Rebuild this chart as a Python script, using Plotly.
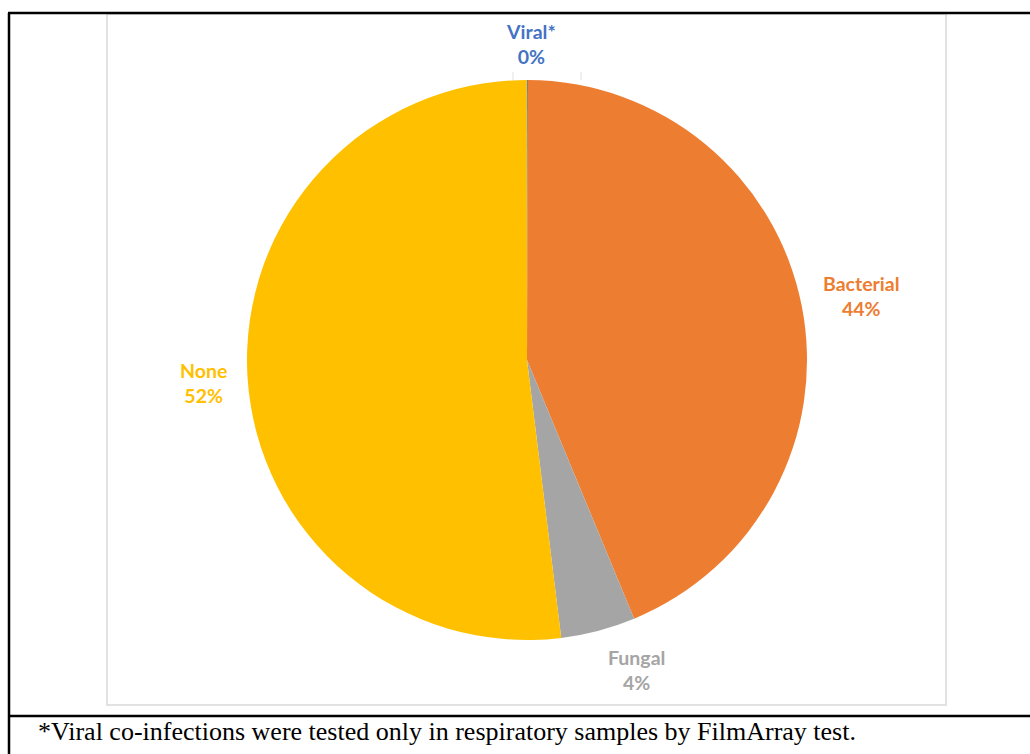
import math
import plotly.graph_objects as go

# ---- data ----
categories = ["Viral*", "Bacterial", "Fungal", "None"]
values = [0.05, 43.7, 4.3, 51.95]
pct_labels = ["0%", "44%", "4%", "52%"]
colors = ["#4472C4", "#ED7D31", "#A5A5A5", "#FFC000"]
label_colors = ["#4472C4", "#ED7D31", "#A5A5A5", "#FFC000"]
footnote = "*Viral co-infections were tested only in respiratory samples by FilmArray test."

# label nudges (pixels, style only): xshift, yshift (positive = up)
label_nudge = {"Viral*": (3, -14), "Bacterial": (10, 0), "Fungal": (25, 9), "None": (6, -3)}

W, H = 1030, 754
cx, cy, r = 527, 360, 280

def px(x):
    return x / W

def py(y):
    return 1 - y / H

fig = go.Figure()
fig.add_trace(go.Pie(
    labels=categories,
    values=values,
    sort=False,
    direction="clockwise",
    rotation=0,
    marker=dict(colors=colors, line=dict(color="white", width=0)),
    textinfo="none",
    hoverinfo="label+percent",
    showlegend=False,
    domain=dict(x=[px(cx - r), px(cx + r)], y=[py(cy + r), py(cy - r)]),
))

shapes = [
    # chart area border
    dict(type="rect", xref="paper", yref="paper", x0=px(107), x1=px(946), y0=py(705), y1=py(14),
         line=dict(color="#D9D9D9", width=1.5), layer="below"),
    # table frame
    dict(type="line", xref="paper", yref="paper", x0=px(8), x1=1, y0=py(13), y1=py(13),
         line=dict(color="black", width=2.5)),
    dict(type="line", xref="paper", yref="paper", x0=px(9), x1=px(9), y0=py(13), y1=0,
         line=dict(color="black", width=2.5)),
    dict(type="line", xref="paper", yref="paper", x0=px(8), x1=1, y0=py(716), y1=py(716),
         line=dict(color="black", width=2.5)),
    # faint leader ticks near viral label
    dict(type="line", xref="paper", yref="paper", x0=px(513), x1=px(513), y0=py(72), y1=py(80),
         line=dict(color="#E0E0E0", width=1)),
    dict(type="line", xref="paper", yref="paper", x0=px(581), x1=px(581), y0=py(72), y1=py(80),
         line=dict(color="#E0E0E0", width=1)),
]

# data labels placed along each slice's mid-angle (computed from values)
total = sum(values)
cum = 0.0
annotations = []
for cat, v, pl, lc in zip(categories, values, pct_labels, label_colors):
    mid = (cum + v / 2) / total * 2 * math.pi
    cum += v
    rr = r * 1.18
    lx = cx + rr * math.sin(mid)
    ly = cy - rr * math.cos(mid)
    dx, dy = label_nudge[cat]
    annotations.append(dict(
        x=px(lx), y=py(ly), xref="paper", yref="paper",
        xshift=dx, yshift=dy,
        text=f"<b>{cat}</b><br><b>{pl}</b>", showarrow=False,
        font=dict(family="Lato, Open Sans, sans-serif", size=19.5, color=lc),
        align="center", xanchor="center", yanchor="middle",
    ))

annotations.append(dict(
    x=px(36), y=py(731), xref="paper", yref="paper", text=footnote,
    showarrow=False, xanchor="left", yanchor="middle",
    font=dict(family="Liberation Serif, Times New Roman, serif", size=26, color="black"),
))

fig.update_layout(
    width=W, height=H,
    margin=dict(l=0, r=0, t=0, b=0),
    paper_bgcolor="white", plot_bgcolor="white",
    annotations=annotations, shapes=shapes,
)

fig.write_html("out.html")
